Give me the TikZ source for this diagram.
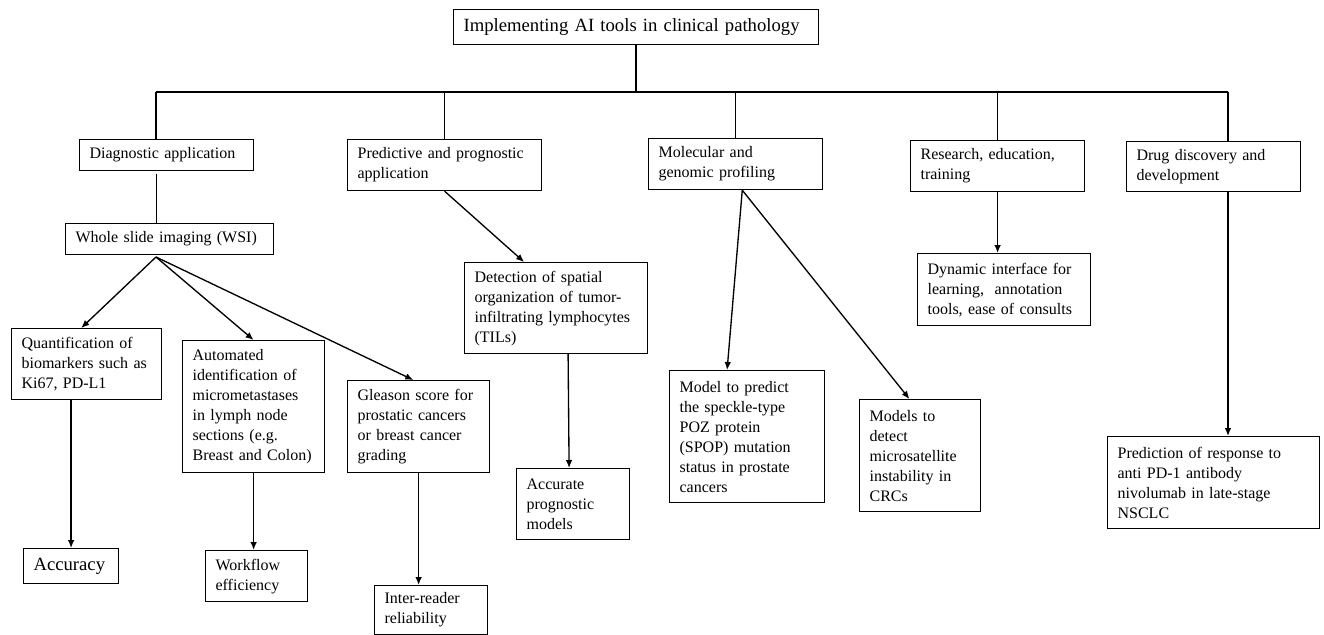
\documentclass[tikz,border=0pt]{standalone}
\usepackage{fontspec}
\setmainfont{Liberation Serif}
\usetikzlibrary{arrows.meta}

\tikzset{
  box/.style={draw, line width=0.9pt, anchor=north west, align=left,
    inner xsep=7.5pt, inner ysep=0pt, font=\fontsize{12}{15}\selectfont},
  link/.style={line width=1pt},
  pointer/.style={line width=1pt, -{Latex[length=6pt,width=5pt]}}
}

\begin{document}
\begin{tikzpicture}[x=0.75pt,y=-0.75pt]
\useasboundingbox (0,0) rectangle (1324,635);
\node [box, text width=258.75pt, minimum height=26.25pt, font=\fontsize{14}{16}\selectfont] (root) at (453,9) {Implementing AI tools in clinical pathology};
\node [box, text width=115.5pt, minimum height=23.25pt] (diag) at (79,139) {Diagnostic application};
\node [box, text width=130.5pt, minimum height=38.25pt] (pred) at (347,139) {Predictive and prognostic\\application};
\node [box, text width=115.5pt, minimum height=38.25pt] (mol) at (648,138) {Molecular and\\genomic profiling};
\node [box, text width=115.5pt, minimum height=38.25pt] (res) at (910,140) {Research, education,\\training};
\node [box, text width=115.5pt, minimum height=37.5pt] (drug) at (1126,141) {Drug discovery and\\development};
\node [box, text width=141pt, minimum height=23.25pt] (wsi) at (65,223) {Whole slide imaging (WSI)};
\node [box, text width=122.25pt, minimum height=68.25pt] (det) at (464,262) {Detection of spatial\\organization of tumor-\\infiltrating lymphocytes\\(TILs)};
\node [box, text width=114.75pt, minimum height=54pt] (dyn) at (917,253) {Dynamic interface for\\learning,~ annotation\\tools, ease of consults};
\node [box, text width=97.5pt, minimum height=53.25pt] (quant) at (11,328) {Quantification of\\biomarkers such as\\Ki67, PD-L1};
\node [box, text width=91.5pt, minimum height=99pt] (auto) at (182,340) {Automated\\identification of\\micrometastases\\in lymph node\\sections (e.g.\\Breast and Colon)};
\node [box, text width=91.5pt, minimum height=69pt] (glea) at (347,380) {Gleason score for\\prostatic cancers\\or breast cancer\\grading};
\node [box, text width=56.25pt, minimum height=26.25pt, font=\fontsize{14}{16}\selectfont] (acc) at (23,548) {Accuracy};
\node [box, text width=61.5pt, minimum height=38.25pt] (work) at (205,550) {Workflow\\efficiency};
\node [box, text width=69.75pt, minimum height=36.75pt] (inter) at (374,585) {Inter-reader\\reliability};
\node [box, text width=69.75pt, minimum height=53.25pt] (accp) at (516,468) {Accurate\\prognostic\\models};
\node [box, text width=101.25pt, minimum height=99pt] (spop) at (669,370) {Model to predict\\the speckle-type\\POZ protein\\(SPOP) mutation\\status in prostate\\cancers};
\node [box, text width=75.75pt, minimum height=84pt] (msi) at (859,399) {Models to\\detect\\microsatellite\\instability in\\CRCs};
\node [box, text width=144pt, minimum height=69pt] (resp) at (1107,436) {Prediction of response to\\anti PD-1 antibody\\nivolumab in late-stage\\NSCLC};
\coordinate (busL) at (156,92);
\coordinate (busR) at (1228,92);
\coordinate (fan) at (156,257);
\coordinate (molfoot) at ([xshift=5pt]mol.south);
\draw [link] (busL) -- (busR);
\draw [link] (root.south) -- (root.south |- busL);
\draw [link] (busL) -- (busL |- diag.north);
\draw [link] (pred.north |- busL) -- (pred.north);
\draw [link] (mol.north |- busL) -- (mol.north);
\draw [link] (res.north |- busL) -- (res.north);
\draw [link] (busR) -- (busR |- drug.north);
\draw [line width=0.6pt] ([yshift=-2pt]diag.south -| busL) -- (wsi.north -| busL);
\draw [pointer] (fan) -- ([xshift=-4pt]quant.north);
\draw [pointer] (fan) -- (auto.north);
\draw [pointer] (fan) -- ([xshift=-4pt]glea.north);
\draw [pointer] (acc.north |- quant.south) -- (acc.north);
\draw [pointer] (auto.south) -- (auto.south |- work.north);
\draw [pointer] (glea.south) -- (glea.south |- inter.north);
\draw [pointer] (pred.south) -- ([xshift=-24pt]det.north);
\draw [pointer] ([xshift=9pt]det.south) -- ([xshift=-3pt]accp.north);
\draw [pointer] (molfoot) -- ([xshift=-15pt]spop.north);
\draw [pointer] (molfoot) -- ([xshift=-8pt]msi.north);
\draw [pointer] (res.south) -- (res.south |- dyn.north);
\draw [pointer] (busR |- drug.south) -- (busR |- resp.north);
\end{tikzpicture}
\end{document}
